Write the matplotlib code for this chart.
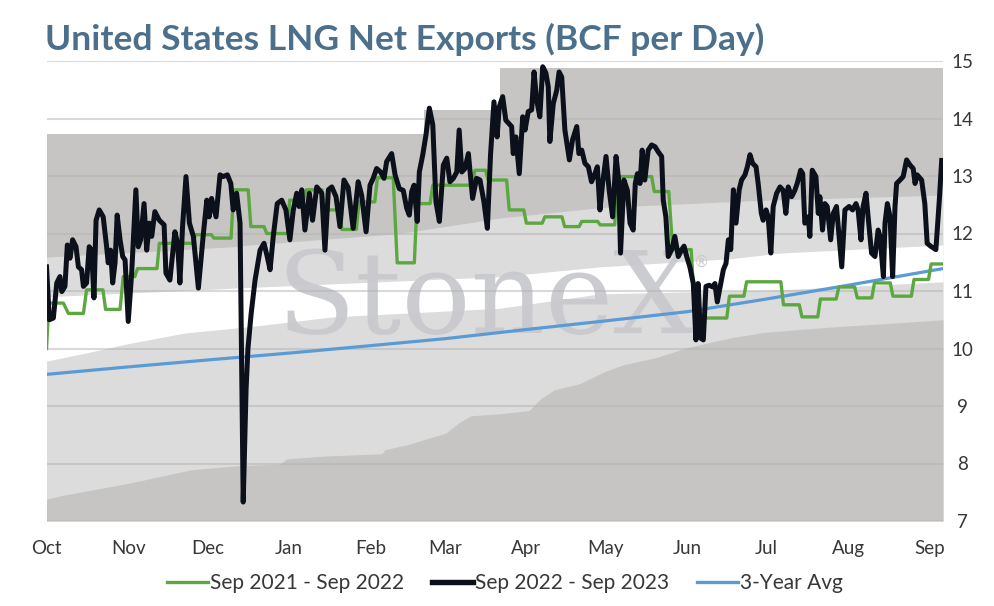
import matplotlib
matplotlib.use('Agg')
import matplotlib.pyplot as plt
from matplotlib.lines import Line2D

# ---------------- data ----------------
title = "United States LNG Net Exports (BCF per Day)"
month_days = [0, 31, 61, 92, 123, 151, 182, 212, 243, 273, 304, 335]
month_labels = ["Oct", "Nov", "Dec", "Jan", "Feb", "Mar", "Apr", "May", "Jun", "Jul", "Aug", "Sep"]
y_ticks = [7, 8, 9, 10, 11, 12, 13, 14, 15]
legend_labels = ["Sep 2021 - Sep 2022", "Sep 2022 - Sep 2023", "3-Year Avg"]

# Sep 2022 - Sep 2023 (days since Oct 1)
cur_days = [0, 1.1, 2.6, 3.9, 5.1, 5.8, 7.0, 7.9, 8.9, 9.9, 11.2, 12.1, 13.3, 14.0, 15.2, 16.2, 17.1, 18.0,
            18.8, 20.0, 21.5, 22.8, 23.4, 24.3, 25.1, 26.0, 26.8, 27.9, 28.9, 29.8, 31.0, 32.3, 33.9, 34.8,
            35.7, 37.0, 38.0, 39.0, 39.9, 41.1, 42.8, 44.6, 45.3, 46.8, 48.7, 49.7, 50.6, 51.6, 52.9, 54.2,
            55.7, 57.6, 59.5, 60.8, 61.7, 62.6, 64.3, 65.8, 67.0, 68.6, 69.9, 70.8, 72.1, 73.4, 74.6, 75.7,
            76.4, 77.6, 79.1, 81.0, 82.5, 83.7, 84.8, 86.0, 87.5, 89.2, 90.8, 92.3, 93.6, 94.9, 95.8, 96.8,
            98.0, 99.7, 100.9, 102.5, 104.4, 105.6, 106.9, 108.2, 109.8, 111.3, 112.8, 114.4, 116.3, 118.2,
            119.5, 121.2, 122.7, 123.9, 125.2, 126.7, 128.0, 129.0, 130.9, 132.2, 133.8, 135.3, 136.6, 137.6,
            138.5, 139.4, 140.6, 141.4, 142.7, 143.9, 145.2, 146.5, 147.7, 149.0, 150.5, 151.8, 153.0, 154.3,
            155.6, 156.5, 157.5, 158.7, 160.0, 161.6, 163.1, 164.4, 165.9, 167.2, 168.4, 169.7, 170.9, 171.7,
            173.0, 174.2, 176.4, 177.0, 178.0, 179.3, 180.6, 181.5, 182.7, 184.0, 184.9, 185.9, 187.1, 188.2,
            189.4, 190.3, 190.9, 192.2, 193.5, 194.4, 195.4, 196.6, 198.3, 199.5, 201.1, 201.9, 203.0, 204.2,
            205.5, 206.7, 208.0, 208.9, 209.9, 210.9, 212.2, 213.4, 214.7, 216.0, 217.0, 217.7, 219.0, 220.3,
            221.3, 222.5, 223.3, 224.1, 225.1, 225.9, 226.9, 228.2, 229.5, 230.8, 232.0, 233.3, 233.9, 234.9,
            235.8, 237.1, 238.3, 239.6, 240.9, 241.8, 242.8, 244.0, 245.3, 246.3, 247.1, 248.1, 249.1, 250.1,
            251.3, 252.6, 253.5, 254.4, 255.7, 256.7, 257.7, 258.6, 259.5, 260.5, 261.5, 262.7, 263.6, 264.9,
            265.8, 266.8, 267.8, 269.1, 269.9, 271.1, 271.8, 272.9, 273.7, 274.7, 275.6, 276.9, 278.2, 279.4,
            280.4, 281.3, 282.6, 283.8, 284.7, 286.0, 286.8, 287.6, 288.9, 289.5, 290.4, 291.8, 292.7, 293.3,
            294.3, 295.2, 296.1, 297.4, 298.4, 299.6, 301.6, 302.8, 304.4, 305.7, 307.0, 307.8, 308.9, 309.7,
            310.8, 311.6, 312.9, 314.2, 315.4, 316.1, 317.4, 318.0, 318.9, 319.9, 320.9, 321.8, 322.4, 323.7,
            324.9, 326.2, 327.5, 328.7, 329.4, 330.2, 331.9, 333.1, 334.0, 335.3, 336.3, 337.3, 338.6, 339.5]
cur_vals = [11.42, 10.50, 10.53, 11.14, 11.25, 10.99, 11.08, 11.80, 11.57, 11.89, 11.77, 11.42, 11.37, 11.08, 11.14,
            11.77, 11.71, 10.88, 12.23, 12.41, 12.29, 11.77, 11.49, 11.71, 11.14, 11.49, 12.32, 11.89, 11.60, 11.54,
            10.47, 11.31, 12.76, 11.77, 11.89, 12.52, 11.71, 12.18, 11.95, 12.38, 12.23, 12.15, 11.31, 11.19, 12.03,
            11.83, 11.14, 12.12, 12.99, 12.18, 11.95, 11.05, 12.00, 12.58, 12.29, 12.61, 12.29, 13.02, 12.99, 13.02,
            12.87, 12.41, 12.70, 12.18, 7.33, 9.30, 10.00, 10.60, 11.19, 11.71, 11.83, 11.60, 11.37, 11.95, 12.52,
            12.58, 12.41, 11.89, 12.41, 12.70, 12.47, 12.76, 12.06, 12.70, 12.23, 12.81, 12.70, 11.71, 12.76, 12.81,
            12.64, 12.12, 12.93, 12.80, 12.09, 12.90, 12.67, 12.03, 12.84, 12.96, 13.13, 13.07, 12.96, 13.25, 13.39,
            13.02, 12.78, 12.75, 12.44, 12.32, 12.73, 12.84, 12.21, 13.07, 13.37, 13.71, 14.18, 13.89, 12.55, 12.21,
            13.19, 13.31, 12.90, 12.96, 13.07, 13.80, 13.07, 13.13, 13.39, 12.61, 12.96, 12.93, 12.55, 12.09, 13.37,
            14.29, 13.68, 14.20, 14.38, 13.97, 13.86, 13.39, 13.68, 13.04, 14.03, 13.80, 14.12, 14.15, 14.81, 14.32,
            14.03, 14.90, 14.79, 14.55, 13.60, 14.26, 14.49, 14.81, 14.72, 13.80, 13.28, 13.63, 13.86, 13.39, 13.45,
            13.22, 13.16, 12.90, 13.04, 13.16, 12.41, 12.87, 13.34, 12.75, 12.29, 13.34, 12.93, 11.66, 12.93, 12.75,
            12.18, 12.06, 12.87, 13.04, 12.87, 13.45, 12.93, 13.45, 13.54, 13.51, 13.42, 13.34, 12.58, 12.29, 11.60,
            11.72, 11.95, 11.60, 11.72, 11.78, 11.60, 11.42, 11.13, 10.15, 11.13, 10.18, 10.15, 11.08, 11.10, 11.07,
            11.13, 10.81, 11.13, 11.37, 11.48, 11.89, 11.72, 12.76, 12.18, 12.76, 12.93, 13.02, 13.16, 13.37, 13.22,
            13.16, 12.87, 12.35, 12.23, 12.41, 12.29, 11.66, 12.47, 12.70, 12.81, 12.75, 12.35, 12.81, 12.64, 12.75,
            12.87, 13.10, 13.04, 12.18, 12.29, 11.95, 13.10, 12.99, 12.35, 12.64, 12.06, 12.52, 12.47, 11.89, 12.35,
            12.47, 11.42, 12.41, 12.47, 12.41, 12.52, 12.41, 11.89, 12.47, 12.70, 12.29, 11.66, 11.60, 12.06, 11.95,
            11.25, 12.18, 12.52, 12.29, 11.25, 12.47, 12.87, 12.93, 12.99, 13.28, 13.19, 13.13, 12.87, 13.02, 12.93,
            12.52, 11.83, 11.78, 11.75, 11.72, 12.58, 13.27]

# Sep 2021 - Sep 2022 (weekly steps)
prev_days = [0, 0.9, 6.4, 8.3, 14.0, 15.2, 21.4, 22.4, 27.9, 29.1, 33.5, 34.5, 41.9, 42.8, 55.5, 56.5, 62.5,
             63.5, 70.0, 71.0, 76.5, 77.5, 82.5, 83.5, 91.5, 92.2, 97.5, 98.5, 104.5, 105.5, 111.0, 112.0,
             117.5, 118.5, 124.5, 125.5, 131.5, 133.0, 139.5, 140.5, 145.5, 146.5, 161.5, 162.5, 166.5, 167.5,
             174.5, 175.5, 181.0, 182.0, 188.0, 189.0, 195.5, 196.5, 202.0, 203.0, 209.0, 210.0, 215.5, 216.5,
             229.5, 230.5, 236.0, 237.5, 244.5, 246.0, 258.0, 259.0, 264.5, 265.5, 278.5, 279.5, 285.5, 286.5,
             292.5, 293.5, 299.5, 300.5, 306.5, 307.5, 313.0, 314.0, 320.0, 321.0, 328.0, 329.0, 334.5, 335.5, 340]
prev_vals = [10.00, 10.79, 10.79, 10.61, 10.61, 11.02, 11.02, 10.68, 10.68, 11.25, 11.25, 11.39, 11.39, 11.83,
             11.83, 11.98, 11.98, 11.92, 11.92, 12.76, 12.76, 12.12, 12.12, 12.00, 12.00, 12.58, 12.58, 12.76,
             12.76, 12.41, 12.41, 12.07, 12.07, 12.55, 12.55, 12.97, 12.97, 11.49, 11.49, 12.52, 12.52, 12.84,
             12.84, 13.10, 13.10, 12.93, 12.93, 12.41, 12.41, 12.18, 12.18, 12.29, 12.29, 12.12, 12.12, 12.21,
             12.21, 12.15, 12.15, 12.99, 12.99, 12.73, 12.73, 11.72, 11.72, 10.53, 10.53, 10.91, 10.91, 11.16,
             11.16, 10.76, 10.76, 10.55, 10.55, 10.86, 10.86, 11.07, 11.07, 10.88, 10.88, 11.14, 11.14, 10.91,
             10.91, 11.20, 11.20, 11.47, 11.47]

# 3-Year average
avg_days = [0, 31, 61, 92, 123, 151, 182, 212, 243, 273, 304, 335, 340]
avg_vals = [9.55, 9.68, 9.80, 9.92, 10.05, 10.17, 10.33, 10.48, 10.64, 10.86, 11.10, 11.35, 11.39]

# range bands (boundaries, bottom to top)
band1_days = [0, 6.6, 30.5, 54.8, 71.9, 88.5, 91.2, 105.6, 127.2, 128.4, 137.1, 144.3, 151.5, 156.4, 161,
              170.8, 183, 187.5, 192.5, 202.3, 211.8, 219, 231.1, 243.3, 259.9, 272.1, 296.4, 320.6, 340]
band1_vals = [7.38, 7.45, 7.65, 7.89, 7.96, 7.99, 8.08, 8.13, 8.17, 8.24, 8.33, 8.43, 8.53, 8.71, 8.83,
              8.86, 8.92, 9.13, 9.28, 9.39, 9.60, 9.72, 9.84, 10.02, 10.19, 10.28, 10.37, 10.44, 10.50]
band2_days = [0, 18.8, 30.5, 52.5, 77.2, 108.6, 172, 209.9, 278.2, 340]
band2_vals = [9.78, 9.96, 10.08, 10.27, 10.38, 10.55, 10.70, 10.95, 11.02, 11.16]
band3_days = [0, 81, 172, 209.9, 259, 278.2, 340]
band3_vals = [10.90, 11.07, 11.25, 11.42, 11.56, 11.66, 11.80]
band4_days = [0, 70.7, 77.2, 134, 172, 209.9, 266.8, 340]
band4_vals = [11.59, 11.77, 11.80, 12.00, 12.27, 12.45, 12.57, 12.67]
band5_days = [0, 143, 143, 172, 172, 340]
band5_vals = [13.73, 13.73, 14.15, 14.15, 14.88, 14.88]

# ---------------- style ----------------
W, H = 994, 606
DARK = '#c6c5c3'
LIGHT = '#dcdcdc'
GREEN = '#5ca740'
BLACK = '#0b101a'
BLUE = '#5b9bd5'
TITLE_C = '#4c708c'
TEXT_C = '#383838'
FONT = ['Lato', 'DejaVu Sans']

plt.rcParams['font.family'] = FONT

fig = plt.figure(figsize=(W / 100, H / 100), dpi=100)
ax = fig.add_axes([46.5 / W, (H - 521) / H, (943 - 46.5) / W, (521 - 61) / H])

ax.fill_between(band5_days, 7, band5_vals, color=DARK, lw=0, zorder=1.0)
ax.fill_between(band4_days, 7, band4_vals, color=LIGHT, lw=0, zorder=1.1)
ax.fill_between(band3_days, 7, band3_vals, color='white', lw=0, zorder=1.2)
ax.fill_between(band2_days, 7, band2_vals, color=LIGHT, lw=0, zorder=1.3)
ax.fill_between(band1_days, 7, band1_vals, color=DARK, lw=0, zorder=1.4)

# watermark
ax.text(486 / W, 1 - 333 / H, "StoneX", transform=fig.transFigure, ha='center', va='baseline',
        fontsize=83, family='DejaVu Serif', color='#c9cace', alpha=0.95, zorder=1.45)
ax.text(702 / W, 1 - 262 / H, "®", transform=fig.transFigure, ha='center', va='center',
        fontsize=11, family='DejaVu Sans', color='#c9cace', zorder=1.45)

ax.set_axisbelow('line')
ax.yaxis.grid(True, color='#b4b4b4', alpha=0.5, lw=1.5)
ax.xaxis.grid(False)

ax.plot(avg_days, avg_vals, color=BLUE, lw=2.3, zorder=3, solid_capstyle='round')
ax.plot(prev_days, prev_vals, color=GREEN, lw=2.4, zorder=4)
ax.plot(cur_days, cur_vals, color=BLACK, lw=3.6, zorder=5, solid_joinstyle='round')

ax.set_xlim(0, 340)
ax.set_ylim(7, 15)
ax.set_xticks(month_days)
ax.set_xticklabels(month_labels)
ax.yaxis.tick_right()
ax.set_yticks(y_ticks)
ax.set_yticklabels([str(v) for v in y_ticks])
ax.tick_params(axis='both', length=0, labelsize=13.5, labelcolor=TEXT_C)
ax.tick_params(axis='x', pad=14)
ax.tick_params(axis='y', pad=14)
for lab in ax.get_yticklabels():
    lab.set_horizontalalignment('center')
for s in ax.spines.values():
    s.set_visible(False)
ax.set_facecolor('white')

fig.text(45 / W, 1 - 50 / H, title, fontsize=25.5, fontweight='bold', color=TITLE_C, va='baseline', ha='left')

handles = [Line2D([], [], color=GREEN, lw=2.4),
           Line2D([], [], color=BLACK, lw=3.9),
           Line2D([], [], color=BLUE, lw=2.4)]
fig.legend(handles, legend_labels, loc='center', bbox_to_anchor=(505 / W, 1 - 583 / H), ncol=3,
           frameon=False, fontsize=15, handlelength=2.0, handletextpad=0.1, columnspacing=1.3,
           labelcolor=TEXT_C)

fig.savefig('out.png', dpi=100)
